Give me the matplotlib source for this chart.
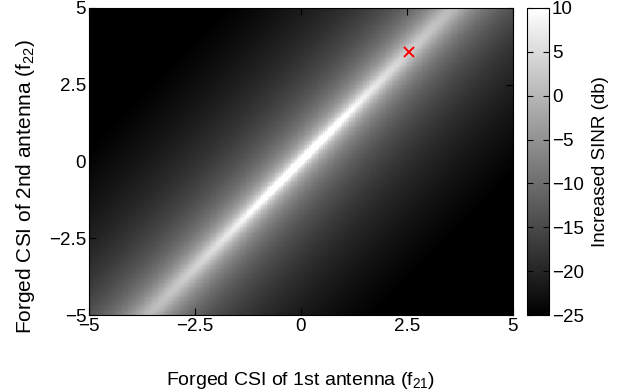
import numpy as np
import matplotlib
matplotlib.use("Agg")
import matplotlib.pyplot as plt

plt.rcParams['font.family'] = ['Liberation Sans', 'DejaVu Sans']
plt.rcParams['mathtext.fontset'] = 'custom'
plt.rcParams['mathtext.rm'] = 'Liberation Sans'
plt.rcParams['mathtext.it'] = 'Liberation Sans'

# Data
f_range = [-5, 5]                 # forged CSI range on both antennas
true_csi = [2.55, 3.55]           # red cross (f21, f22)
sinr_limits = [-25, 10]           # colour scale (db)
axis_ticks = [-5, -2.5, 0, 2.5, 5]
axis_tick_labels = ["\u22125", "\u22122.5", "0", "2.5", "5"]
cbar_ticks = [-25, -20, -15, -10, -5, 0, 5, 10]
cbar_tick_labels = ["\u221225", "\u221220", "\u221215", "\u221210", "\u22125", "0", "5", "10"]
sinr_offset = -12.2               # db level of the field
sinr_slope = 10.0                 # db per decade of mismatch
angle_spread = 0.0014             # relative width of the ridge

# SINR gain over the grid of forged CSI values
f21 = np.linspace(f_range[0], f_range[1], 241)
f22 = np.linspace(f_range[0], f_range[1], 241)
F21, F22 = np.meshgrid(f21, f22)
h = np.array(true_csi)
dist = (F22 * h[0] - F21 * h[1]) / np.linalg.norm(h)
radius2 = F21 ** 2 + F22 ** 2
sinr = sinr_offset - sinr_slope * np.log10(dist ** 2 + angle_spread * radius2 + 1e-6)

fig = plt.figure(figsize=(6.26, 3.91), dpi=100)
ax = fig.add_axes([0.142, 0.194, 0.677, 0.786])
cax = fig.add_axes([0.842, 0.194, 0.035, 0.786])

im = ax.imshow(sinr, cmap="gray", vmin=sinr_limits[0], vmax=sinr_limits[1],
               extent=[f_range[0], f_range[1], f_range[0], f_range[1]],
               origin="lower", aspect="auto", interpolation="nearest")
ax.plot(true_csi[0], true_csi[1], "x", color="red", markersize=7, markeredgewidth=1.4)

ax.set_xlim(f_range)
ax.set_ylim(f_range)
ax.set_xticks(axis_ticks)
ax.set_xticklabels(axis_tick_labels)
ax.set_yticks(axis_ticks)
ax.set_yticklabels(axis_tick_labels)
ax.tick_params(direction="in", top=True, right=True, labelsize=13.5, length=5, pad=2)
ax.set_xlabel("Forged CSI of 1st antenna (f$_{21}$)", fontsize=14)
ax.xaxis.set_label_coords(0.5, -0.18)
ax.set_ylabel("Forged CSI of 2nd antenna (f$_{22}$)", fontsize=15)
ax.yaxis.set_label_coords(-0.123, 0.42)

cb = fig.colorbar(im, cax=cax)
cb.set_ticks(cbar_ticks)
cb.set_ticklabels(cbar_tick_labels)
cax.tick_params(direction="in", left=True, right=True, labelsize=13.5, length=4, pad=2)
cb.set_label("Increased SINR (db)", fontsize=13.5)
cax.yaxis.set_label_coords(2.95, 0.5)
cb.outline.set_linewidth(0.8)

fig.savefig("out.png", dpi=100)
